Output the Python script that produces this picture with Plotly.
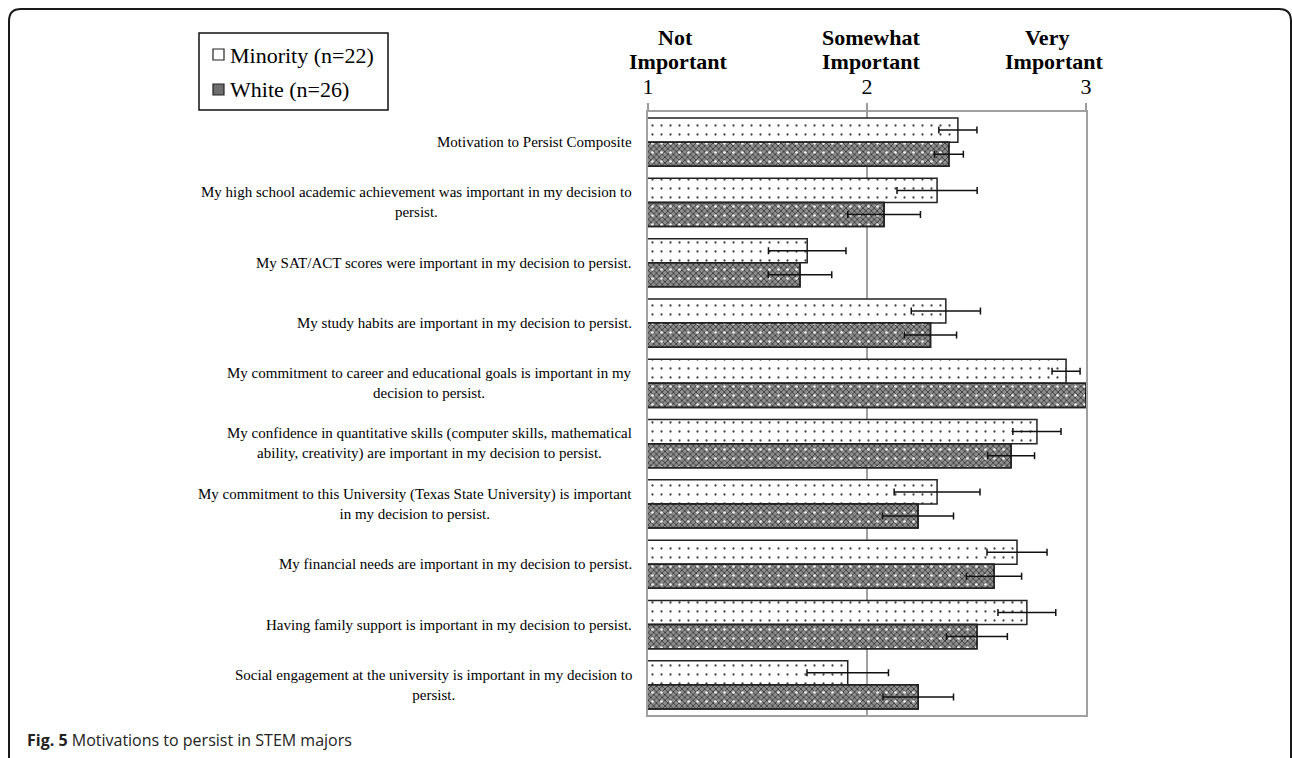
import plotly.graph_objects as go

# Survey items (top to bottom)
categories = [
    "Motivation to Persist Composite",
    "My high school academic achievement was important in my decision to<br>persist.",
    "My SAT/ACT scores were important in my decision to persist.",
    "My study habits are important in my decision to persist.",
    "My commitment to career and educational goals is important in my<br>decision to persist.",
    "My confidence in quantitative skills (computer skills, mathematical<br>ability, creativity) are important in my decision to persist.",
    "My commitment to this University (Texas State University) is important<br>in my decision to persist.",
    "My financial needs are important in my decision to persist.",
    "Having family support is important in my decision to persist.",
    "Social engagement at the university is important in my decision to<br>persist.",
]

# Mean ratings (1 = not important, 3 = very important) and standard errors
minority_mean = [2.415, 2.32, 1.727, 2.36, 2.909, 2.776, 2.32, 2.685, 2.73, 1.912]
minority_err = [0.087, 0.183, 0.177, 0.158, 0.064, 0.110, 0.196, 0.137, 0.132, 0.186]
white_mean = [2.374, 2.078, 1.694, 2.29, 3.0, 2.658, 2.233, 2.58, 2.502, 2.234]
white_err = [0.066, 0.166, 0.145, 0.119, 0.0, 0.107, 0.162, 0.126, 0.139, 0.161]

tick_vals = [1, 2, 3]
tick_text = ["1", "2", "3"]
header_lines = [
    ("Not", 675, 37), ("Important", 678, 62),
    ("Somewhat", 871, 37), ("Important", 871, 62),
    ("Very", 1047, 37), ("Important", 1054, 62),
]
legend_names = ["Minority (n=22)", "White (n=26)"]
caption_bold = "Fig. 5"
caption_text = "Motivations to persist in STEM majors"

# Canvas and plot-area geometry (pixels)
W, H = 1292, 758
L, R, T, B = 648, 206, 112, 43
PW, PH = W - L - R, H - T - B


def px(x):
    return (x - L) / PW


def py(y):
    return (H - B - y) / PH


SERIF = "Liberation Serif, Times New Roman, serif"
BAR_W = 0.4

fig = go.Figure()

# Minority: white bars with sparse black dots
fig.add_trace(go.Bar(
    y=categories, x=minority_mean, orientation="h",
    offset=-BAR_W, width=BAR_W,
    marker=dict(
        color="white",
        line=dict(color="#222222", width=1.5),
        pattern=dict(shape=".", fgcolor="#444444", bgcolor="white",
                     size=9, solidity=0.05, fillmode="replace"),
    ),
    error_x=dict(type="data", array=minority_err, color="#111111",
                 thickness=1.5, width=3.5),
    name=legend_names[0], showlegend=False,
))

# White: dark crosshatch bars...
fig.add_trace(go.Bar(
    y=categories, x=white_mean, orientation="h",
    offset=0, width=BAR_W,
    marker=dict(
        color="#7a7a7a",
        line=dict(color="#222222", width=1.5),
        pattern=dict(shape="x", fgcolor="#3c3c3c", bgcolor="#8e8e8e",
                     size=4, solidity=0.4, fillmode="replace"),
    ),
    name=legend_names[1], showlegend=False,
))
# ...with a lattice of white dots on top
fig.add_trace(go.Bar(
    y=categories, x=white_mean, orientation="h",
    offset=0, width=BAR_W,
    marker=dict(
        color="rgba(0,0,0,0)",
        line=dict(color="#222222", width=1.5),
        pattern=dict(shape=".", fgcolor="#f4f4f4", bgcolor="rgba(0,0,0,0)",
                     size=9, solidity=0.07, fillmode="replace"),
    ),
    error_x=dict(type="data", array=white_err, color="#111111",
                 thickness=1.5, width=3.5),
    showlegend=False, hoverinfo="skip",
))

annotations = []

# Item labels: block right-aligned against the axis, lines centred
for cat in categories:
    annotations.append(dict(
        x=0, xref="paper", y=cat, yref="y", xanchor="right", yanchor="middle",
        xshift=-14, text=cat, align="center", showarrow=False,
        font=dict(family=SERIF, size=15, color="black"),
    ))

# Scale headers above the tick numbers
for txt, cx, cy in header_lines:
    annotations.append(dict(
        x=px(cx), xref="paper", y=py(cy), yref="paper",
        xanchor="center", yanchor="middle", text=f"<b>{txt}</b>",
        showarrow=False, font=dict(family=SERIF, size=22, color="black"),
    ))

# Legend box contents
leg_rows = [(legend_names[0], 55), (legend_names[1], 90)]
for txt, cy in leg_rows:
    annotations.append(dict(
        x=px(228), xref="paper", y=py(cy), yref="paper",
        xanchor="left", yanchor="middle", text=txt, showarrow=False,
        font=dict(family=SERIF, size=22, color="black"),
    ))

# Caption
annotations.append(dict(
    x=px(25), xref="paper", y=py(740), yref="paper",
    xanchor="left", yanchor="middle",
    text=f"<b>{caption_bold}</b> {caption_text}", showarrow=False,
    font=dict(family="Open Sans, Noto Sans, sans-serif", size=16, color="#222222"),
))

shapes = [
    # rounded outer frame
    dict(type="path", xref="paper", yref="paper",
         path=(f"M {px(9)},{py(770)} L {px(9)},{py(21)} "
               f"Q {px(9)},{py(9)} {px(21)},{py(9)} "
               f"L {px(1279)},{py(9)} Q {px(1291)},{py(9)} {px(1291)},{py(21)} "
               f"L {px(1291)},{py(770)}"),
         line=dict(color="#1a1a1a", width=2)),
    # legend frame
    dict(type="rect", xref="paper", yref="paper",
         x0=px(199), x1=px(388), y0=py(33), y1=py(110),
         line=dict(color="#111111", width=1.5), fillcolor="white", layer="below"),
    # legend swatches
    dict(type="rect", xref="paper", yref="paper",
         x0=px(213), x1=px(224), y0=py(49), y1=py(60),
         line=dict(color="#222222", width=1.2), fillcolor="white"),
    dict(type="rect", xref="paper", yref="paper",
         x0=px(213), x1=px(224), y0=py(84), y1=py(95),
         line=dict(color="#222222", width=1.2), fillcolor="#6e6e6e"),
]

fig.update_layout(
    width=W, height=H,
    margin=dict(l=L, r=R, t=T, b=B, pad=0),
    paper_bgcolor="white", plot_bgcolor="white",
    barmode="overlay",
    showlegend=False,
    annotations=annotations,
    shapes=shapes,
    xaxis=dict(
        range=[1, 3], side="top", tickvals=tick_vals, ticktext=tick_text,
        ticks="outside", ticklen=7, tickwidth=1.5, tickcolor="#9a9a9a",
        showline=True, mirror=True, linecolor="#a0a0a0", linewidth=1.5,
        showgrid=True, gridcolor="#a0a0a0", gridwidth=1.5,
        zeroline=False,
        tickfont=dict(family=SERIF, size=22, color="black"),
    ),
    yaxis=dict(
        autorange="reversed", showticklabels=False, ticks="",
        showline=True, mirror=True, linecolor="#a0a0a0", linewidth=1.5,
        showgrid=False, zeroline=False,
    ),
)

fig.write_html("out.html")
